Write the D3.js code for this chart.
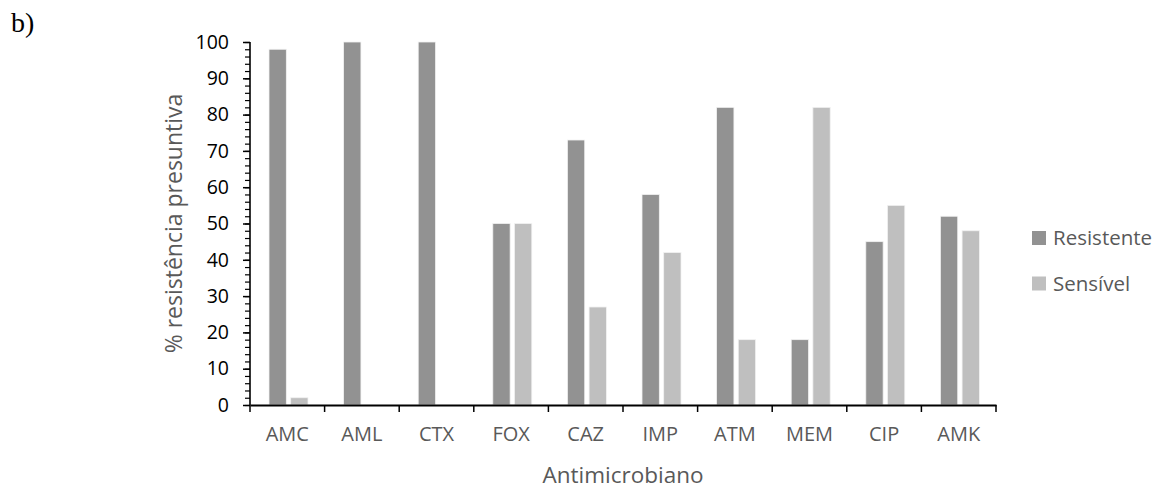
<!DOCTYPE html>
<html>
<head>
<meta charset="utf-8">
<script src="https://cdn.jsdelivr.net/npm/d3@7"></script>
<style>
  body { margin: 0; background: #fff; }
  text { font-family: "Open Sans", sans-serif; }
</style>
</head>
<body>
<div id="chart-area"></div>
<script>
// data
var categories = ["AMC", "AML", "CTX", "FOX", "CAZ", "IMP", "ATM", "MEM", "CIP", "AMK"];
var resistente = [98, 100, 100, 50, 73, 58, 82, 18, 45, 52];
var sensivel = [2, 0, 0, 50, 27, 42, 18, 82, 55, 48];
var seriesNames = ["Resistente", "Sensível"];
var seriesColors = ["#929292", "#bfbfbf"];
var yTicks = [0, 10, 20, 30, 40, 50, 60, 70, 80, 90, 100];

var margin = { left: 250, right: 168, top: 42, bottom: 87 };
var width = 1164 - margin.left - margin.right;
var height = 492 - margin.top - margin.bottom;

var svg = d3.select("#chart-area")
    .append("svg")
    .attr("width", 1164)
    .attr("height", 492);

svg.append("text")
    .attr("x", 11)
    .attr("y", 32)
    .style("font-family", "'Liberation Serif', 'Times New Roman', serif")
    .attr("font-size", "28px")
    .attr("fill", "#000")
    .text("b)");

var g = svg.append("g")
    .attr("transform", "translate(" + margin.left + ", " + margin.top + ")");

var x = d3.scaleBand()
    .domain(categories)
    .range([0, width]);

var x1 = d3.scaleBand()
    .domain(seriesNames)
    .range([19, 58])
    .paddingInner(0.2);

var y = d3.scaleLinear()
    .domain([0, 100])
    .range([height, 0]);

var rows = categories.map(function(c, i) {
    return { cat: c, values: [resistente[i], sensivel[i]] };
});

// bars
var groups = g.selectAll(".grp")
    .data(rows)
    .enter()
    .append("g")
    .attr("class", "grp")
    .attr("transform", function(d) { return "translate(" + x(d.cat) + ",0)"; });

groups.selectAll("rect")
    .data(function(d) {
        return d.values.map(function(v, k) { return { name: seriesNames[k], value: v, k: k }; });
    })
    .enter()
    .append("rect")
    .filter(function(d) { return d.value > 0; })
    .attr("x", function(d) { return x1(d.name); })
    .attr("y", function(d) { return y(d.value); })
    .attr("width", x1.bandwidth())
    .attr("height", function(d) { return height - y(d.value); })
    .attr("fill", function(d) { return seriesColors[d.k]; })
    .attr("stroke", "#f2f2f2")
    .attr("stroke-width", 0.8);

// y axis with minor ticks
var yMinor = d3.range(0, 101, 2);
g.append("g")
    .attr("class", "y-minor")
    .call(d3.axisLeft(y).tickValues(yMinor).tickSize(5).tickFormat(""))
    .call(function(a) { a.select(".domain").remove(); })
    .selectAll("line").attr("stroke", "#000").attr("stroke-width", 1.2);

var yAxis = g.append("g")
    .attr("class", "y-axis")
    .call(d3.axisLeft(y).tickValues(yTicks).tickSize(7).tickPadding(14));
yAxis.select(".domain").attr("stroke", "#000").attr("stroke-width", 1.6).attr("d", "M0,0V" + height);
yAxis.selectAll("line").attr("stroke", "#000").attr("stroke-width", 1.5);
yAxis.selectAll("text")
    .attr("font-size", "19.5px")
    .attr("fill", "#000")
    .style("font-family", "'Open Sans', sans-serif");

// x axis
var xAxis = g.append("g")
    .attr("class", "x-axis")
    .attr("transform", "translate(0," + height + ")")
    .call(d3.axisBottom(x).tickSize(0));
xAxis.select(".domain").attr("stroke", "#000").attr("stroke-width", 1.8);
xAxis.selectAll("text")
    .attr("y", 36)
    .attr("dy", 0)
    .attr("font-size", "20px")
    .attr("fill", "#595959")
    .style("font-family", "'Open Sans', sans-serif");

// category boundary ticks
var bounds = d3.range(categories.length + 1).map(function(i) { return i * x.step(); });
g.append("g")
    .selectAll("line")
    .data(bounds)
    .enter()
    .append("line")
    .attr("x1", function(d) { return d; })
    .attr("x2", function(d) { return d; })
    .attr("y1", height)
    .attr("y2", height + 7)
    .attr("stroke", "#000")
    .attr("stroke-width", 1.5);

// axis titles
g.append("text")
    .attr("x", width / 2)
    .attr("y", height + 78)
    .attr("text-anchor", "middle")
    .attr("font-size", "22.5px")
    .attr("fill", "#595959")
    .text("Antimicrobiano");

g.append("text")
    .attr("transform", "translate(-68," + (height / 2) + ") rotate(-90)")
    .attr("text-anchor", "middle")
    .attr("font-size", "23px")
    .attr("fill", "#595959")
    .text("% resistência presuntiva");

// legend
var legend = svg.append("g")
    .attr("transform", "translate(1032, 231)");
var items = legend.selectAll("g")
    .data(seriesNames)
    .enter()
    .append("g")
    .attr("transform", function(d, i) { return "translate(0," + (i * 45.5) + ")"; });
items.append("rect")
    .attr("width", 14)
    .attr("height", 14)
    .attr("fill", function(d, i) { return seriesColors[i]; });
items.append("text")
    .attr("x", 21)
    .attr("y", 14)
    .attr("font-size", "20.5px")
    .attr("fill", "#595959")
    .text(function(d) { return d; });
</script>
</body>
</html>
